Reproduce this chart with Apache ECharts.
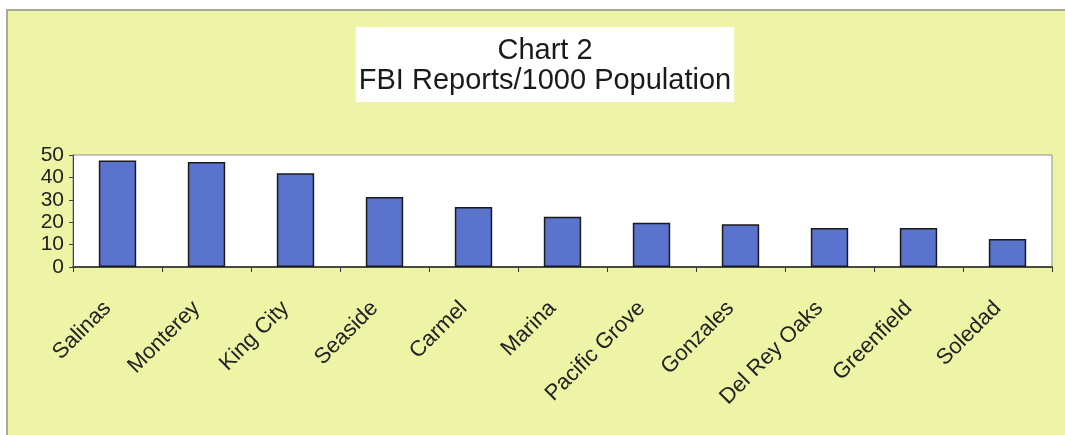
<!DOCTYPE html>
<html>
<head>
<meta charset="utf-8">
<script src="https://cdn.jsdelivr.net/npm/echarts@6/dist/echarts.min.js"></script>
<style>
	body{
		margin:0;
		background:#ffffff;
	}
	#chart2{
		position:absolute;
		left:6px;
		top:9px;
		width:1059px;
		height:424px;
		background:#eef4a6;
		border-left:2px solid #a9ab96;
		border-top:2px solid #a9ab96;
	}
</style>
</head>
<body>
<div id="chart2"></div>
<script>
	// cities, in the order shown
	var cities = ["Salinas", "Monterey", "King City", "Seaside", "Carmel", "Marina",
		"Pacific Grove", "Gonzales", "Del Rey Oaks", "Greenfield", "Soledad"];
	// FBI reports per 1000 population
	var reports = [47.6, 46.9, 41.8, 31.2, 26.8, 22.4, 19.7, 19.1, 17.4, 17.4, 12.5];
	var yTicks = [0, 10, 20, 30, 40, 50];

	var chart = echarts.init(document.getElementById('chart2'));
	var option = {
		animation:false,
		title:{
			text:'Chart 2\nFBI Reports/1000 Population',
			left:534,
			textAlign:'center',
			top:16,
			backgroundColor:'#ffffff',
			padding:[9, 3, 6, 3],
			textStyle:{
				fontFamily:'Liberation Sans',
				fontWeight:'normal',
				fontSize:29,
				lineHeight:30,
				color:'#1a1a1a'
			}
		},
		grid:{
			left:65,
			top:144,
			width:979,
			height:112,
			show:true,
			backgroundColor:'#ffffff',
			borderColor:'#8f8f8f',
			borderWidth:1
		},
		xAxis:{
			type:'category',
			data:cities,
			boundaryGap:true,
			axisLine:{lineStyle:{color:'#222222', width:1.5}},
			axisTick:{show:true, length:5, lineStyle:{color:'#333333'}},
			axisLabel:{
				rotate:45,
				interval:0,
				margin:28,
				padding:[0, 14, 0, 0],
				fontFamily:'Liberation Sans',
				fontSize:22,
				color:'#222222'
			}
		},
		yAxis:{
			type:'value',
			min:yTicks[0],
			max:yTicks[yTicks.length - 1],
			interval:10,
			splitLine:{show:false},
			axisLine:{show:true, lineStyle:{color:'#444444'}},
			axisTick:{show:true, length:4, lineStyle:{color:'#444444'}},
			axisLabel:{
				margin:9,
				fontFamily:'Liberation Sans',
				fontSize:21,
				color:'#222222'
			}
		},
		series:[{
			type:'bar',
			data:reports,
			barWidth:'42%',
			itemStyle:{
				color:'#5a73cc',
				borderColor:'#1a1a1a',
				borderWidth:1.5
			}
		}]
	};
	chart.setOption(option);
</script>
</body>
</html>
